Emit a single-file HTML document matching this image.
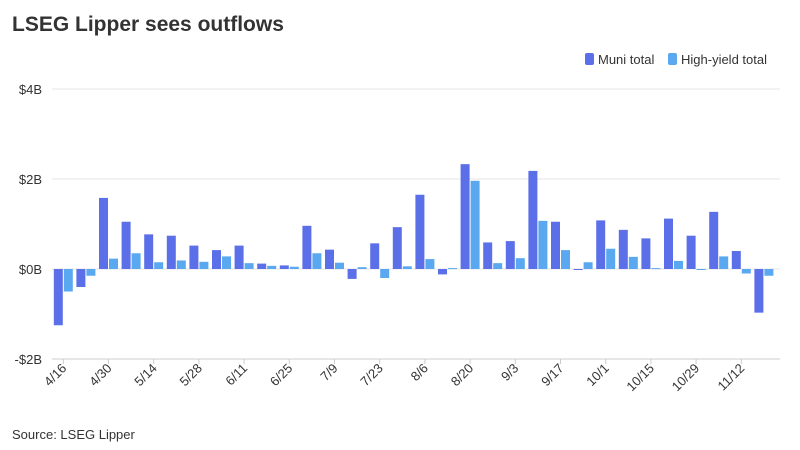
<!DOCTYPE html>
<html><head><meta charset="utf-8"><style>
body{margin:0;background:#fff;font-family:"Liberation Sans",sans-serif;}
svg{display:block}
</style></head><body>
<svg id="c" width="800" height="450" xmlns="http://www.w3.org/2000/svg" font-family="Liberation Sans, sans-serif">
<text x="12" y="31" font-size="21" font-weight="bold" fill="#333">LSEG Lipper sees outflows</text>
<rect x="585" y="53" width="9" height="12" rx="2" fill="#5a6fe8"/>
<text x="598" y="64" font-size="13" fill="#333">Muni total</text>
<rect x="668" y="53" width="9" height="12" rx="2" fill="#5aa8f0"/>
<text x="681" y="64" font-size="13" fill="#333">High-yield total</text>
<text x="12" y="439" font-size="13" fill="#333">Source: LSEG Lipper</text>
<g id="g"></g>
</svg>
<script>
var g=document.getElementById('g'),s='';
function y(v){return 269-45*v;}
[4,2,0,-2].forEach(function(v){
 s+='<line x1="52" x2="780" y1="'+y(v)+'" y2="'+y(v)+'" stroke="#e4e4e4"/>';
 s+='<text x="42" y="'+(y(v)+5)+'" font-size="13" text-anchor="end" fill="#333">'+(v<0?'-$'+(-v):'$'+v)+'B</text>';
});
s+='<line x1="52" x2="780" y1="359" y2="359" stroke="#ccc"/>';
var m=[-1.25,-0.4,1.58,1.05,0.77,0.74,0.52,0.42,0.52,0.12,0.08,0.96,0.43,-0.22,0.57,0.93,1.65,-0.12,2.33,0.59,0.62,2.18,1.05,-0.02,1.08,0.87,0.68,1.12,0.74,1.27,0.4,-0.97];
var h=[-0.5,-0.15,0.23,0.35,0.15,0.19,0.16,0.28,0.13,0.07,0.05,0.35,0.14,0.04,-0.2,0.06,0.22,0.02,1.96,0.13,0.24,1.07,0.42,0.15,0.45,0.27,0.02,0.18,0.0,0.28,-0.1,-0.15];
var labels=['4/16','4/30','5/14','5/28','6/11','6/25','7/9','7/23','8/6','8/20','9/3','9/17','10/1','10/15','10/29','11/12'];
var step=22.6,x0=52;
function bar(x,v,c){var a=y(v),b=y(0);var t=Math.min(a,b),hh=Math.abs(a-b);if(hh<1)hh=1;s+='<rect x="'+x+'" y="'+t+'" width="9" height="'+hh+'" fill="'+c+'"/>';}
for(var i=0;i<32;i++){
 var cx=x0+step*(i+0.5);
 bar(cx-9.5,m[i],'#5a6fe8');bar(cx+0.5,h[i],'#5aa8f0');
 if(i%2==0){
  s+='<line x1="'+cx+'" x2="'+cx+'" y1="359" y2="364" stroke="#ccc"/>';
  s+='<text transform="translate('+(cx+4)+',369) rotate(-45)" font-size="13" text-anchor="end" fill="#333">'+labels[i/2]+'</text>';
 }
}
g.innerHTML=s;
</script>
</body></html>
